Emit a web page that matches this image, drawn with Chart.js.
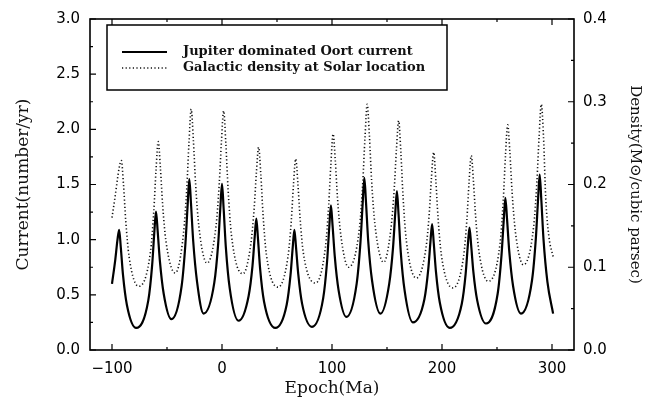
<!DOCTYPE html>
<html>
<head>
<meta charset="utf-8">
<script src="https://cdn.jsdelivr.net/npm/chart.js@4.4.1/dist/chart.umd.min.js"></script>
<style>
    body { margin: 0; background: #fff; }
    #wrap { width: 655px; height: 404px; }
</style>
</head>
<body>
<div id="wrap"><canvas id="chart" width="655" height="404"></canvas></div>
<script>
// values
const xTicks = [-100, 0, 100, 200, 300];
const seriesLabels = ['Jupiter dominated Oort current', 'Galactic density at Solar location'];

// Oort current (number/yr), left axis
const currentEpochs = [
    -100, -97, -95, -93.5, -92, -90, -86.5, -78,
    -67, -63.5, -61.5, -60, -58.5, -56.5, -53, -46,
    -36.7, -33.2, -31.2, -29.7, -28.2, -26.2, -22.7, -16.7,
    -7, -3.5, -1.5, 0, 1.5, 3.5, 7, 15,
    24.2, 27.7, 29.7, 31.2, 32.7, 34.7, 38.2, 48.5,
    58.8, 62.3, 64.3, 65.8, 67.3, 69.3, 72.8, 81.8,
    92, 95.5, 97.5, 99, 100.5, 102.5, 106, 113,
    122.4, 125.9, 127.9, 129.4, 130.9, 132.9, 136.4, 144,
    152, 155.5, 157.5, 159, 160.5, 162.5, 166, 173.5,
    184, 187.5, 189.5, 191, 192.5, 194.5, 198, 207,
    218, 221.5, 223.5, 225, 226.5, 228.5, 232, 240,
    250.6, 254.1, 256.1, 257.6, 259.1, 261.1, 264.6, 271.8,
    281.8, 285.3, 287.3, 288.8, 290.3, 292.3, 295.8, 301
];
const currentValues = [
    0.60, 0.82, 1.00, 1.09, 0.93, 0.68, 0.41, 0.20,
    0.45, 0.77, 1.07, 1.255, 1.08, 0.81, 0.51, 0.28,
    0.58, 0.97, 1.32, 1.55, 1.33, 0.99, 0.62, 0.33,
    0.61, 0.96, 1.29, 1.505, 1.28, 0.93, 0.56, 0.265,
    0.49, 0.76, 1.02, 1.19, 1.01, 0.73, 0.44, 0.20,
    0.41, 0.68, 0.93, 1.09, 0.93, 0.69, 0.42, 0.21,
    0.47, 0.80, 1.11, 1.31, 1.13, 0.85, 0.54, 0.30,
    0.60, 0.98, 1.33, 1.56, 1.34, 0.99, 0.63, 0.33,
    0.60, 0.93, 1.24, 1.44, 1.23, 0.89, 0.54, 0.25,
    0.46, 0.73, 0.98, 1.14, 0.97, 0.71, 0.43, 0.20,
    0.42, 0.69, 0.95, 1.11, 0.95, 0.71, 0.45, 0.24,
    0.51, 0.86, 1.17, 1.38, 1.19, 0.90, 0.58, 0.33,
    0.63, 1.01, 1.36, 1.59, 1.36, 1.00, 0.62, 0.33
];

// galactic density (Msun / cubic parsec), right axis
const densityEpochs = [
    -100, -97, -95, -93.5, -91.5, -89.5, -87.5, -84.5, -75.7,
    -65, -62, -60, -58, -56, -54, -51, -42.5,
    -35, -32, -30, -28, -26, -24, -21, -13.6,
    -5.5, -2.5, -0.5, 1.5, 3.5, 5.5, 8.5, 19,
    26.3, 29.3, 31.3, 33.3, 35.3, 37.3, 40.3, 51,
    60, 63, 65, 67, 69, 71, 74, 85,
    94, 97, 99, 101, 103, 105, 108, 115,
    125, 128, 130, 132, 134, 136, 139, 147,
    153.6, 156.6, 158.6, 160.6, 162.6, 164.6, 167.6, 176.7,
    185.4, 188.4, 190.4, 192.4, 194.4, 196.4, 199.4, 210,
    219.6, 222.6, 224.6, 226.6, 228.6, 230.6, 233.6, 242,
    252.7, 255.7, 257.7, 259.7, 261.7, 263.7, 266.7, 274,
    283.3, 286.3, 288.3, 290.3, 292.3, 294.3, 297.3, 301
];
const densityValues = [
    0.160, 0.187, 0.207, 0.220, 0.229, 0.199, 0.156, 0.113, 0.077,
    0.119, 0.168, 0.217, 0.252, 0.220, 0.176, 0.132, 0.093,
    0.141, 0.196, 0.251, 0.291, 0.253, 0.201, 0.149, 0.105,
    0.149, 0.201, 0.252, 0.289, 0.249, 0.195, 0.140, 0.092,
    0.129, 0.172, 0.215, 0.245, 0.212, 0.164, 0.116, 0.076,
    0.113, 0.156, 0.200, 0.231, 0.201, 0.159, 0.117, 0.081,
    0.124, 0.175, 0.225, 0.261, 0.229, 0.184, 0.139, 0.100,
    0.148, 0.203, 0.257, 0.297, 0.259, 0.205, 0.152, 0.106,
    0.147, 0.195, 0.243, 0.277, 0.239, 0.185, 0.132, 0.087,
    0.123, 0.165, 0.208, 0.239, 0.205, 0.160, 0.115, 0.075,
    0.113, 0.157, 0.203, 0.235, 0.204, 0.161, 0.119, 0.083,
    0.128, 0.181, 0.235, 0.272, 0.239, 0.191, 0.143, 0.103,
    0.149, 0.204, 0.259, 0.297, 0.257, 0.184, 0.136, 0.113
];

function toPoints(xs, ys) {
    return xs.map((x, i) => ({x: x, y: ys[i]}));
}

const tickFont = {family: 'DejaVu Sans', size: 15};
const titleFont = {family: 'DejaVu Serif', size: 17};

// frame with inward ticks on all four sides
const frameTicks = {
    id: 'frameTicks',
    afterDatasetsDraw(chart) {
        const {ctx, chartArea: a, scales} = chart;
        ctx.save();
        ctx.strokeStyle = '#000';
        ctx.lineWidth = 1.6;
        ctx.strokeRect(a.left, a.top, a.right - a.left, a.bottom - a.top);
        ctx.lineWidth = 1.2;
        ctx.beginPath();
        for (let v = -100; v <= 300; v += 50) {
            const px = scales.x.getPixelForValue(v);
            const len = v % 100 === 0 ? 6 : 3;
            ctx.moveTo(px, a.bottom); ctx.lineTo(px, a.bottom - len);
            ctx.moveTo(px, a.top); ctx.lineTo(px, a.top + len);
        }
        for (let i = 0; i <= 12; i++) {
            const py = scales.y.getPixelForValue(i * 0.25);
            const len = i % 2 === 0 ? 6 : 3;
            ctx.moveTo(a.left, py); ctx.lineTo(a.left + len, py);
        }
        for (let i = 0; i <= 8; i++) {
            const py = scales.y2.getPixelForValue(i * 0.05);
            const len = i % 2 === 0 ? 6 : 3;
            ctx.moveTo(a.right, py); ctx.lineTo(a.right - len, py);
        }
        ctx.stroke();
        ctx.restore();
    }
};

// boxed legend inside the plot, upper left
const boxLegend = {
    id: 'boxLegend',
    afterDraw(chart) {
        const {ctx, chartArea: a} = chart;
        const bx = a.left + 17, by = a.top + 6, bw = 340, bh = 65;
        ctx.save();
        ctx.fillStyle = '#fff';
        ctx.fillRect(bx, by, bw, bh);
        ctx.strokeStyle = '#000';
        ctx.lineWidth = 1.5;
        ctx.strokeRect(bx, by, bw, bh);
        ctx.font = 'bold 13px "DejaVu Serif"';
        ctx.textBaseline = 'middle';
        chart.data.datasets.forEach(function (ds, i) {
            const ly = by + 27 + i * 16;
            ctx.beginPath();
            ctx.strokeStyle = ds.borderColor;
            ctx.lineWidth = ds.borderWidth;
            ctx.setLineDash(ds.borderDash || []);
            ctx.moveTo(bx + 15, ly);
            ctx.lineTo(bx + 60, ly);
            ctx.stroke();
            ctx.setLineDash([]);
            ctx.fillStyle = '#111';
            ctx.fillText(ds.label, bx + 76, ly);
        });
        ctx.restore();
    }
};

new Chart(document.getElementById('chart'), {
    type: 'line',
    data: {
        datasets: [
            {
                label: seriesLabels[0],
                data: toPoints(currentEpochs, currentValues),
                yAxisID: 'y',
                borderColor: '#000',
                borderWidth: 2.2,
                pointRadius: 0,
                cubicInterpolationMode: 'monotone'
            },
            {
                label: seriesLabels[1],
                data: toPoints(densityEpochs, densityValues),
                yAxisID: 'y2',
                borderColor: '#111',
                borderWidth: 1.6,
                borderDash: [1.2, 2.4],
                pointRadius: 0,
                cubicInterpolationMode: 'monotone'
            }
        ]
    },
    options: {
        responsive: false,
        animation: false,
        layout: {padding: {top: 13, left: 0, right: 0, bottom: 0}},
        plugins: {legend: {display: false}, tooltip: {enabled: false}},
        scales: {
            x: {
                type: 'linear',
                min: -120,
                max: 320,
                afterBuildTicks: function (scale) {
                    scale.ticks = xTicks.map(v => ({value: v}));
                },
                afterFit: function (scale) { scale.height = 54; },
                grid: {display: false, drawTicks: false},
                border: {display: false},
                ticks: {
                    color: '#000', font: tickFont, padding: 10, maxRotation: 0,
                    callback: v => (v < 0 ? '\u2212' + Math.abs(v) : String(v))
                },
                title: {display: true, text: 'Epoch(Ma)', color: '#111', font: titleFont, padding: {top: 0, bottom: 5}}
            },
            y: {
                position: 'left',
                min: 0,
                max: 3,
                ticks: {stepSize: 0.5, color: '#000', font: tickFont, padding: 10, callback: v => v.toFixed(1)},
                afterFit: function (scale) { scale.width = 90; },
                grid: {display: false, drawTicks: false},
                border: {display: false},
                title: {display: true, text: 'Current(number/yr)', color: '#111', font: titleFont, padding: {top: 13, bottom: 0}}
            },
            y2: {
                position: 'right',
                min: 0,
                max: 0.4,
                ticks: {stepSize: 0.1, color: '#000', font: tickFont, padding: 9, callback: v => v.toFixed(1)},
                afterFit: function (scale) { scale.width = 81; },
                grid: {display: false, drawTicks: false},
                border: {display: false},
                title: {display: true, text: 'Density(M\u2299/cubic parsec)', color: '#111', font: {family: 'DejaVu Serif', size: 15}, padding: {top: 11, bottom: 0}}
            }
        }
    },
    plugins: [frameTicks, boxLegend]
});
</script>
</body>
</html>
